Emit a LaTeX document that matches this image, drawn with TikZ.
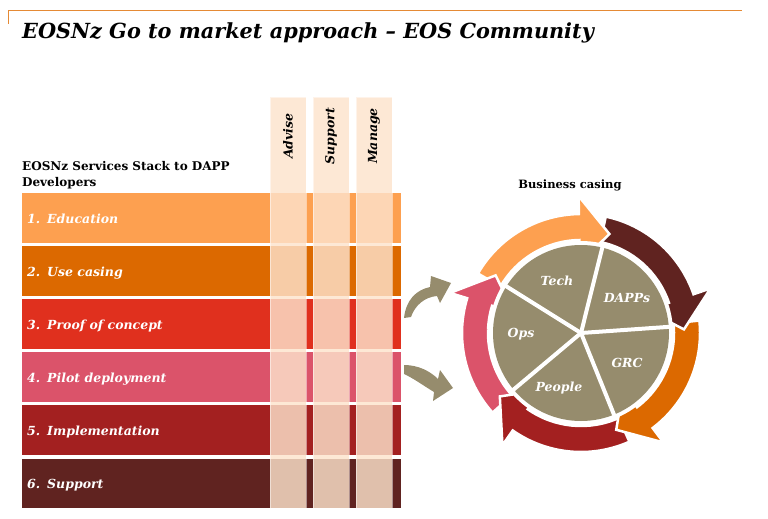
\documentclass[tikz,border=0pt]{standalone}
\usepackage{fontspec}
\setmainfont{DejaVu Serif}
\definecolor{cA}{HTML}{FDA050}
\definecolor{cB}{HTML}{DC6900}
\definecolor{cC}{HTML}{E0301E}
\definecolor{cD}{HTML}{DB536A}
\definecolor{cE}{HTML}{A32020}
\definecolor{cF}{HTML}{602320}
\definecolor{peach}{HTML}{FDE3CC}
\definecolor{khaki}{HTML}{968C6D}
\definecolor{topline}{HTML}{E58A35}
\newcommand\myringarrow[2]{%
  \pgfmathsetmacro\sA{#2}%
  \pgfmathsetmacro\bA{#2-59}%
  \pgfmathsetmacro\tA{#2-76}%
  \filldraw[fill=#1, draw=white, line width=2.5pt, line join=miter]
    (\sA:119) arc[start angle=\sA, end angle=\bA, radius=119]
    -- (\bA:137) -- (\tA:103) -- (\bA:70) -- (\bA:93)
    arc[start angle=\bA, end angle=\sA, radius=93] -- cycle;}
\tikzset{
  bar/.style={minimum width=379pt, minimum height=49.5pt, inner sep=0pt, draw=none},
  lbl/.style={anchor=base west, text=white, inner sep=0pt, font=\fontsize{12.5}{14}\selectfont\bfseries\itshape},
  colbox/.style={fill=peach, fill opacity=0.82, draw=white, draw opacity=0.5, line width=0.8pt, minimum width=36pt, minimum height=411pt, inner sep=0pt},
  coltxt/.style={rotate=90, inner sep=0pt, font=\fontsize{12.5}{14}\selectfont\bfseries\itshape},
  pietxt/.style={text=white, inner sep=0pt, font=\fontsize{12.5}{14}\selectfont\bfseries\itshape},
  hdr/.style={anchor=base west, inner sep=0pt, font=\fontsize{12}{14}\selectfont\bfseries},
}
\begin{document}
\begin{tikzpicture}[x=1pt,y=-1pt]
\useasboundingbox (0,0) rectangle (768,519);
% top rule
\draw[topline, line width=1pt] (8,24) -- (8,11) -- (742,11);
\node[anchor=base west, inner sep=0pt, font=\fontsize{20.8}{24}\selectfont\bfseries\itshape] (title) at (22,38) {EOSNz Go to market approach – EOS Community};
% header
\node[hdr] (hdr1) at (22,170) {EOSNz Services Stack to DAPP};
\node[hdr] (hdr2) at (22,186) {Developers};
% bars
\foreach \i/\c/\t in {1/cA/Education, 2/cB/Use casing, 3/cC/Proof of concept, 4/cD/Pilot deployment, 5/cE/Implementation, 6/cF/Support}{
  \pgfmathsetmacro\tp{193+53.1*(\i-1)}
  \node[bar, fill=\c] (row\i) at (211.5,\tp+24.75) {};
  \node[lbl] (num\i) at (27,\tp+30) {\i.};
  \node[lbl] (txt\i) at (47,\tp+30) {\t};
}
% columns
\node[colbox] (colA) at (288,302.5) {};
\node[colbox] (colB) at (331,302.5) {};
\node[colbox] (colC) at (374,302.5) {};
\node[coltxt] (tA) at (288,136) {Advise};
\node[coltxt] (tB) at (331,136) {Support};
\node[coltxt] (tC) at (374,136) {Manage};
% business casing
\node[anchor=base, inner sep=0pt, font=\fontsize{11.5}{14}\selectfont\bfseries] (bc) at (570,188) {Business casing};
% ring
\begin{scope}[shift={(581,333)}, y=1pt]
  \myringarrow{cD}{-138}
  \myringarrow{cE}{-66}
  \myringarrow{cB}{6}
  \myringarrow{cF}{78}
  \myringarrow{cA}{150}
  \begin{scope}
    \clip (0,0) -- (138:150) arc[start angle=138, end angle=178, radius=150] -- cycle;
    \myringarrow{cD}{-138}
  \end{scope}
  \fill[white] (0,0) circle[radius=92];
  \fill[khaki] (0,0) circle[radius=88];
  \foreach \a in {76,4,-68,-140,148}
    \draw[white, line width=4pt] (0,0) -- (\a:90);
\end{scope}
\node[pietxt] (pTech) at (557,281) {Tech};
\node[pietxt] (pDapp) at (627,298) {DAPPs};
\node[pietxt] (pGrc) at (627,363) {GRC};
\node[pietxt] (pPeople) at (559,388) {People};
\node[pietxt] (pOps) at (521,334) {Ops};
% left khaki arrows
\fill[khaki] (404,318) .. controls (406,300) and (416,290) .. (430,287) -- (431,276) -- (451,283) -- (440,303) -- (437,296) .. controls (425,297) and (415,305) .. (411,317) -- cycle;
\fill[khaki] (404,365) .. controls (418,365) and (430,371) .. (438,379) -- (440,370) -- (453,388) -- (433,401) -- (434,392) .. controls (424,386) and (413,378) .. (404,374) -- cycle;
\end{tikzpicture}
\end{document}
